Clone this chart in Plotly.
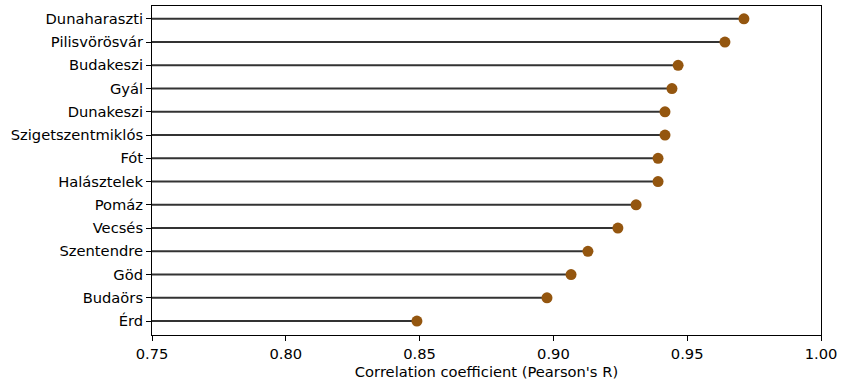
import plotly.graph_objects as go

cities = ["Dunaharaszti", "Pilisvörösvár", "Budakeszi", "Gyál", "Dunakeszi",
          "Szigetszentmiklós", "Fót", "Halásztelek", "Pomáz", "Vecsés",
          "Szentendre", "Göd", "Budaörs", "Érd"]
r_values = [0.9712, 0.9641, 0.9466, 0.9443, 0.9417, 0.9417, 0.9391, 0.9391,
            0.9309, 0.9241, 0.9129, 0.9066, 0.8976, 0.8490]
x_min = 0.75
x_ticks = [0.75, 0.80, 0.85, 0.90, 0.95, 1.00]

line_x, line_y = [], []
for c, v in zip(cities, r_values):
    line_x += [x_min, v, None]
    line_y += [c, c, None]

fig = go.Figure()
fig.add_trace(go.Scatter(x=line_x, y=line_y, mode="lines",
                         line=dict(color="#333333", width=2), hoverinfo="skip",
                         showlegend=False))
fig.add_trace(go.Scatter(x=r_values, y=cities, mode="markers",
                         marker=dict(color="#94560f", size=11), showlegend=False))

n = len(cities)
fig.update_layout(
    width=847, height=384,
    margin=dict(l=152, r=26, t=6, b=49),
    plot_bgcolor="white", paper_bgcolor="white",
    font=dict(family="DejaVu Sans", size=14.7, color="black"),
)
fig.update_xaxes(range=[0.75, 1.0], tickvals=x_ticks,
                 ticktext=[f"{t:.2f}" for t in x_ticks],
                 showgrid=False, zeroline=False, showline=True, mirror=True,
                 linecolor="black", linewidth=1, ticks="outside", ticklen=5,
                 tickcolor="black",
                 title=dict(text="Correlation coefficient (Pearson's R)",
                            font=dict(size=14.7), standoff=6))
fig.update_yaxes(type="category", categoryorder="array", categoryarray=cities,
                 range=[n - 1 + 0.6, -0.55],
                 showgrid=False, zeroline=False, showline=True, mirror=True,
                 linecolor="black", linewidth=1, ticks="outside", ticklen=5,
                 tickcolor="black")

fig.write_html("out.html")
